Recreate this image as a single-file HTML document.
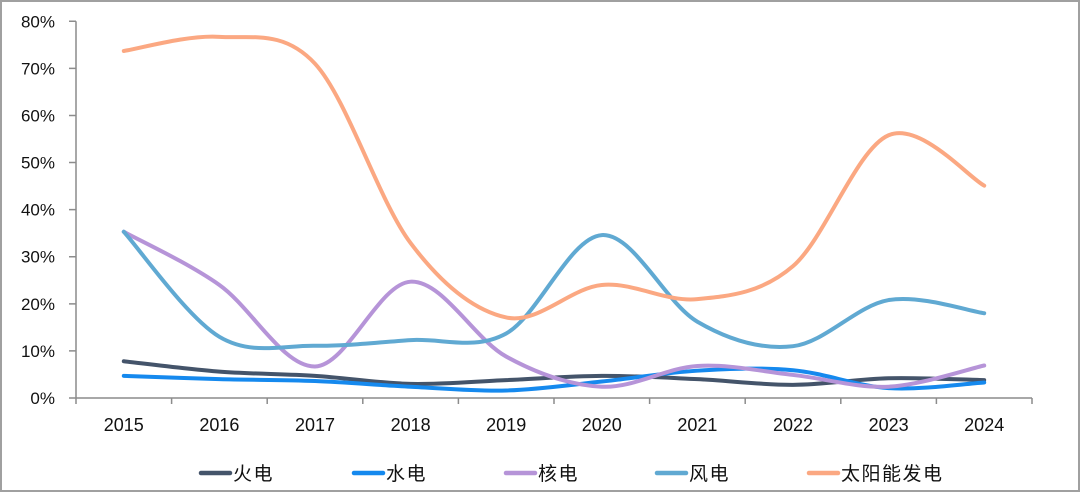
<!DOCTYPE html>
<html><head><meta charset="utf-8"><style>
html,body{margin:0;padding:0;background:#fff;}
svg{display:block;}
text{font-family:"Liberation Sans","Noto Sans CJK SC",sans-serif;fill:#111;}
</style></head><body>
<svg id="c" width="1080" height="492" viewBox="0 0 1080 492" xmlns="http://www.w3.org/2000/svg">
<rect x="1" y="1" width="1078" height="490" fill="#fff" stroke="#a0a0a0" stroke-width="2"/>
<g id="axes" stroke="#8c8c8c" stroke-width="1.5" fill="none"></g>
<g id="ylab" font-size="17" text-anchor="end"></g>
<g id="xlab" font-size="18" text-anchor="middle"></g>
<g id="series" fill="none" stroke-width="4" stroke-linecap="round" stroke-linejoin="round"></g>
<g id="legend"></g>
</svg>
<script>
(function(){
var NS="http://www.w3.org/2000/svg";
function el(p,tag,attrs,txt){var e=document.createElementNS(NS,tag);for(var k in attrs)e.setAttribute(k,attrs[k]);if(txt!=null)e.textContent=txt;p.appendChild(e);return e;}
var X0=76,X1=1032,cw=(X1-X0)/10,Y0=398,Ytop=21.3,ps=(Y0-Ytop)/80;
function cx(i){return X0+cw*(i+0.5);}
function cy(v){return Y0-v*ps;}
var axes=document.getElementById('axes');
var d="M"+X0+" "+Ytop+" L"+X0+" "+Y0+" L"+X1+" "+Y0;
for(var k=0;k<=8;k++){var yy=cy(k*10);d+=" M69 "+yy.toFixed(2)+" L"+X0+" "+yy.toFixed(2);}
for(var i=0;i<=10;i++){var xx=X0+cw*i;d+=" M"+xx.toFixed(2)+" "+Y0+" L"+xx.toFixed(2)+" 404";}
el(axes,'path',{d:d});
var yl=document.getElementById('ylab');
for(var k=0;k<=8;k++){el(yl,'text',{x:55,y:(cy(k*10)+6).toFixed(1)},(k*10)+"%");}
var xl=document.getElementById('xlab');
for(var i=0;i<10;i++){el(xl,'text',{x:cx(i).toFixed(1),y:431},String(2015+i));}
var S=[
 {n:"火电",c:"#44546A",v:[7.8,5.6,4.7,3.0,3.8,4.7,4.0,2.8,4.2,3.8]},
 {n:"水电",c:"#1589EE",v:[4.7,4.0,3.6,2.4,1.6,3.5,5.8,5.9,2.1,3.3]},
 {n:"核电",c:"#B694D8",v:[35.3,24.0,6.7,24.7,8.8,2.4,6.8,4.9,2.4,6.9]},
 {n:"风电",c:"#60A9D2",v:[35.3,13.0,11.1,12.3,13.7,34.6,16.2,11.0,20.8,18.0]},
 {n:"太阳能发电",c:"#FBA882",v:[73.7,76.7,71.0,32.9,17.1,24.0,21.0,28.0,55.8,45.1]}
];
var sg=document.getElementById('series');
S.forEach(function(s){
 var P=s.v.map(function(v,i){return [cx(i),cy(v)];});
 var d="M"+P[0][0].toFixed(2)+" "+P[0][1].toFixed(2);
 for(var i=0;i<P.length-1;i++){
  var p0=P[i>0?i-1:0],p1=P[i],p2=P[i+1],p3=P[i+2<P.length?i+2:P.length-1];
  var c1=[p1[0]+(p2[0]-p0[0])/6,p1[1]+(p2[1]-p0[1])/6];
  var c2=[p2[0]-(p3[0]-p1[0])/6,p2[1]-(p3[1]-p1[1])/6];
  d+=" C"+c1[0].toFixed(2)+" "+c1[1].toFixed(2)+" "+c2[0].toFixed(2)+" "+c2[1].toFixed(2)+" "+p2[0].toFixed(2)+" "+p2[1].toFixed(2);
 }
 el(sg,'path',{d:d,stroke:s.c});
});
var lg=document.getElementById('legend');
var lx=[201,354,506,657,809];
S.forEach(function(s,i){
 el(lg,'line',{x1:lx[i],y1:473,x2:lx[i]+29,y2:473,stroke:s.c,'stroke-width':4.5,'stroke-linecap':'round'});
 el(lg,'text',{x:lx[i]+32,y:480,'font-size':19,'letter-spacing':1.5},s.n);
});
})();
</script>
</body></html>
